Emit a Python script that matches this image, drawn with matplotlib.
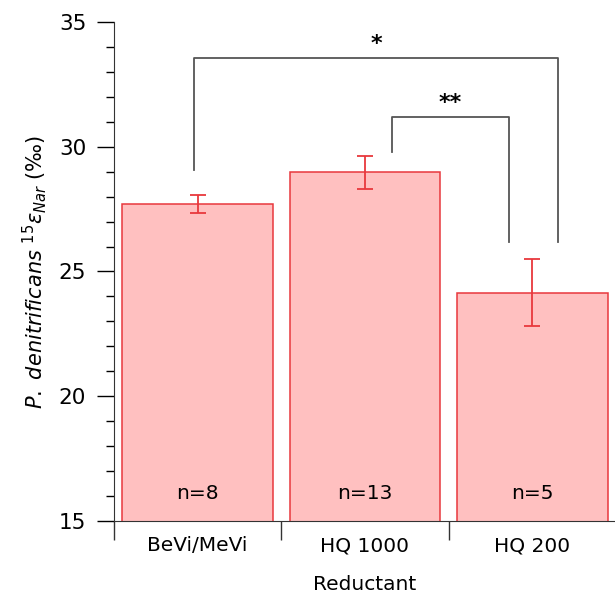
import numpy as np
import matplotlib.pyplot as plt
from matplotlib.ticker import MultipleLocator

# data
reductants = ['BeVi/MeVi', 'HQ 1000', 'HQ 200']
eps_mean = [27.7, 28.97, 24.15]
eps_err = [0.35, 0.66, 1.34]
n_labels = ['n=8', 'n=13', 'n=5']

# significance brackets: (x_left, x_right, y_left_end, y_top, y_right_end, label)
brackets = [(-0.02, 2.153, 29.07, 33.55, 26.19, '*'),
            (1.159, 1.859, 29.79, 31.19, 26.19, '**')]

bar_face = '#ffc0c0'
bar_edge = '#e8383d'
line_col = '#555555'

fig = plt.figure(figsize=(6.15, 5.95), dpi=100)
ax = fig.add_axes([114/615, 74/595, 502/615, 499/595])

x = np.arange(len(reductants))
ax.bar(x, eps_mean, width=0.9, bottom=0, color=bar_face, edgecolor=bar_edge, linewidth=1.1, zorder=2)
ax.errorbar(x, eps_mean, yerr=eps_err, fmt='none', ecolor=bar_edge, elinewidth=1.3, capsize=6, capthick=1.3, zorder=3)

for xi, lab in zip(x, n_labels):
    ax.text(xi, 16.1, lab, ha='center', va='center', fontsize=14.5)

for x0, x1, y0, ytop, y1, lab in brackets:
    ax.plot([x0, x0, x1, x1], [y0, ytop, ytop, y1], color=line_col, linewidth=1.3, clip_on=False)
    ax.text((x0 + x1) / 2, ytop + 0.15, lab, ha='center', va='bottom', fontsize=16, fontweight='bold')

ax.set_ylim(15, 35)
ax.set_xlim(-0.5, 2.5)
ax.yaxis.set_major_locator(MultipleLocator(5))
ax.yaxis.set_minor_locator(MultipleLocator(1))
ax.tick_params(axis='y', which='major', length=12, width=1, labelsize=15.5, pad=8)
ax.tick_params(axis='y', which='minor', length=6, width=1)

ax.set_xticks([-0.5, 0.5, 1.5, 2.5])
ax.set_xticklabels([])
ax.set_xticks(x, minor=True)
ax.set_xticklabels(reductants, minor=True)
ax.tick_params(axis='x', which='major', direction='out', length=14, width=1, color='#333333')
ax.tick_params(axis='x', which='minor', length=0, labelsize=14.5, pad=11)

for s in ['top', 'right']:
    ax.spines[s].set_visible(False)
ax.spines['left'].set_color('#333333')
ax.spines['bottom'].set_color('#333333')

ax.set_xlabel('Reductant', fontsize=14.5, labelpad=14)
ax.set_ylabel(r'$\it{P.}$ $\it{denitrificans}$ $^{15}\varepsilon_{\it{Nar}}$ (‰)', fontsize=15, labelpad=7)

fig.savefig('out.png', dpi=100)
